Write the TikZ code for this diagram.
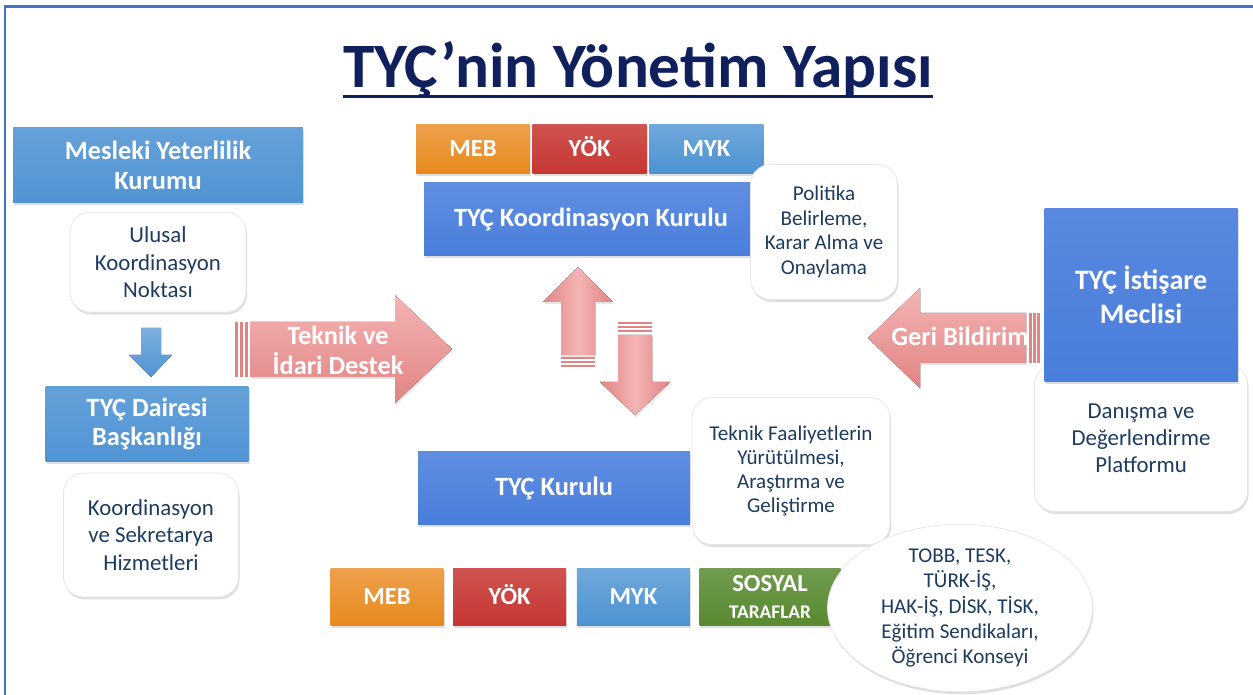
\documentclass[tikz,border=0pt]{standalone}
\usepackage{fontspec}
\setmainfont{Carlito}
\usepackage{xcolor}
\usetikzlibrary{positioning, shadows, shapes.geometric}

\definecolor{frameblue}{RGB}{68,114,196}
\definecolor{titlenavy}{RGB}{16,32,92}
\definecolor{lightblue}{RGB}{80,148,212}
\definecolor{royalblue}{RGB}{74,126,220}
\definecolor{mebor}{RGB}{232,137,30}
\definecolor{yokred}{RGB}{198,54,50}
\definecolor{mykblue}{RGB}{76,146,210}
\definecolor{sosgreen}{RGB}{88,138,48}
\definecolor{darktxt}{RGB}{30,60,96}
\definecolor{arrowpink}{RGB}{226,132,132}
\definecolor{pinklight}{RGB}{244,180,180}

\begin{document}
\begin{tikzpicture}[x=0.02cm, y=-0.02cm]
\tikzstyle{bluebox} = [rectangle, text=white, align=center, font=\bfseries\fontsize{15}{17}\selectfont, drop shadow={opacity=0.25, shadow xshift=0.6pt, shadow yshift=-1.2pt}]
\tikzstyle{softbox} = [rectangle, rounded corners=0.4cm, fill=white, draw=gray!20, text=darktxt, align=center, font=\fontsize{13}{15.5}\selectfont, drop shadow={opacity=0.25, shadow xshift=0.6pt, shadow yshift=-1.4pt}]
\tikzstyle{tile} = [rectangle, text=white, align=center, font=\bfseries\fontsize{14}{15}\selectfont, text height=9pt, text depth=1pt, minimum height=1cm, minimum width=2.28cm, drop shadow={opacity=0.25, shadow xshift=0.6pt, shadow yshift=-1.2pt}]
\tikzstyle{pinkarrow} = [top color=pinklight, bottom color=arrowpink, drop shadow={opacity=0.2, shadow xshift=0.6pt, shadow yshift=-1.2pt}]
\tikzstyle{vpinkarrow} = [left color=arrowpink, right color=arrowpink, middle color=pinklight, drop shadow={opacity=0.2, shadow xshift=0.6pt, shadow yshift=-1.2pt}]

\useasboundingbox (0,0) rectangle (1253,695);
\draw[frameblue, line width=1.7pt] (5,695) -- (5,7) -- (1253,7);

\node (title) [anchor=base, inner sep=0pt, text=titlenavy, font=\bfseries\fontsize{36}{40}\selectfont] at (638,88) {TYÇ’nin Yönetim Yapısı};
\draw[titlenavy, line width=1.8pt] ([yshift=-5pt]title.base west) -- ([yshift=-5pt]title.base east);

\node (mesleki) [bluebox, top color=lightblue!88!white, bottom color=lightblue, minimum width=5.8cm, minimum height=1.5cm] at (158,165) {Mesleki Yeterlilik\\Kurumu};
\node (ulusal) [softbox, minimum width=3.52cm, minimum height=2cm, below=0.18cm of mesleki] {Ulusal\\Koordinasyon\\Noktası};
\fill[top color=lightblue!75!white, bottom color=lightblue] (141,328) -- (161,328) -- (161,355) -- (172,355) -- (151,377) -- (129,355) -- (141,355) -- cycle;
\node (daire) [bluebox, top color=lightblue!88!white, bottom color=lightblue, minimum width=4.06cm, minimum height=1.5cm] at (147,424) {TYÇ Dairesi\\Başkanlığı};
\node (sekreter) [softbox, minimum width=3.5cm, minimum height=2.48cm] at (151,535) {Koordinasyon\\ve Sekretarya\\Hizmetleri};

\node (meb1) [tile, top color=mebor!80!white, bottom color=mebor] at (473,149) {MEB};
\node (yok1) [tile, top color=yokred!85!white, bottom color=yokred, right=0.04cm of meb1] {YÖK};
\node (myk1) [tile, top color=mykblue!80!white, bottom color=mykblue, right=0.04cm of yok1] {MYK};
\node (koordk) [bluebox, top color=royalblue!88!white, bottom color=royalblue, minimum width=6.68cm, minimum height=1.48cm] at (591,219) {TYÇ Koordinasyon Kurulu};
\node (politika) [softbox, font=\fontsize{12}{14}\selectfont, minimum width=2.94cm, minimum height=2.7cm] at (824,232) {Politika\\Belirleme,\\Karar Alma ve\\Onaylama};

\fill[pinkarrow] (250,322) -- (395,322) -- (395,295) -- (452,349) -- (395,403) -- (395,377) -- (250,377) -- cycle;
\foreach \x in {235,240,245}
  \fill[arrowpink] (\x,322) rectangle (\x+3,377);
\node (teknik) [text=white, align=center, font=\bfseries\fontsize{15}{17}\selectfont] at (338,350) {Teknik ve\\İdari Destek};

\fill[vpinkarrow] (561,355) -- (561,302) -- (543,302) -- (578,267) -- (613,302) -- (595,302) -- (595,355) -- cycle;
\foreach \y in {357,361,365}
  \fill[arrowpink] (561,\y) rectangle (595,\y+2.5);
\fill[vpinkarrow] (618,335) -- (652,335) -- (652,382) -- (670,382) -- (635,415) -- (600,382) -- (618,382) -- cycle;
\foreach \y in {322,326,330}
  \fill[arrowpink] (618,\y) rectangle (652,\y+2.5);

\node (danisma) [softbox, minimum width=4.26cm, minimum height=2.94cm] at (1141,438) {Danışma ve\\Değerlendirme\\Platformu};
\node (istisare) [bluebox, top color=royalblue!92!white, bottom color=royalblue, font=\bfseries\fontsize{16}{19}\selectfont, minimum width=3.86cm, minimum height=3.48cm] at (1141,295) {TYÇ İstişare\\Meclisi};
\fill[pinkarrow] (1026,313) -- (920,313) -- (920,288) -- (868,338) -- (920,388) -- (920,363) -- (1026,363) -- cycle;
\foreach \x in {1029,1033,1037}
  \fill[arrowpink] (\x,313) rectangle (\x+2.5,363);
\node (geri) [text=white, font=\bfseries\fontsize{15}{17}\selectfont] at (960,336) {Geri Bildirim};

\node (kurulu) [bluebox, top color=royalblue!88!white, bottom color=royalblue, minimum width=5.44cm, minimum height=1.46cm] at (554,488) {TYÇ Kurulu};
\node (faaliyet) [softbox, font=\fontsize{12}{13.8}\selectfont, minimum width=3.96cm, minimum height=2.94cm] at (791,471) {Teknik Faaliyetlerin\\Yürütülmesi,\\Araştırma ve\\Geliştirme};

\node (meb2) [tile, top color=mebor!80!white, bottom color=mebor, minimum width=2.26cm, minimum height=1.14cm] at (387,597) {MEB};
\node (yok2) [tile, top color=yokred!85!white, bottom color=yokred, minimum width=2.26cm, minimum height=1.14cm, right=0.18cm of meb2] {YÖK};
\node (myk2) [tile, top color=mykblue!80!white, bottom color=mykblue, minimum width=2.26cm, minimum height=1.14cm, right=0.2cm of yok2] {MYK};
\node (sosyal) [tile, text height={}, text depth={}, top color=sosgreen!85!white, bottom color=sosgreen, minimum width=2.82cm, minimum height=1.14cm, right=0.18cm of myk2] {SOSYAL\\{\fontsize{11}{13}\selectfont TARAFLAR}};
\node (paydas) [ellipse, fill=white, draw=gray!20, text=darktxt, align=center, font=\fontsize{12}{14.4}\selectfont, minimum width=5.3cm, minimum height=3.26cm, inner sep=0pt, drop shadow={opacity=0.25, shadow xshift=0.6pt, shadow yshift=-1.4pt}] at (960,608) {TOBB, TESK,\\TÜRK-İŞ,\\HAK-İŞ, DİSK, TİSK,\\Eğitim Sendikaları,\\Öğrenci Konseyi};

\end{tikzpicture}
\end{document}
